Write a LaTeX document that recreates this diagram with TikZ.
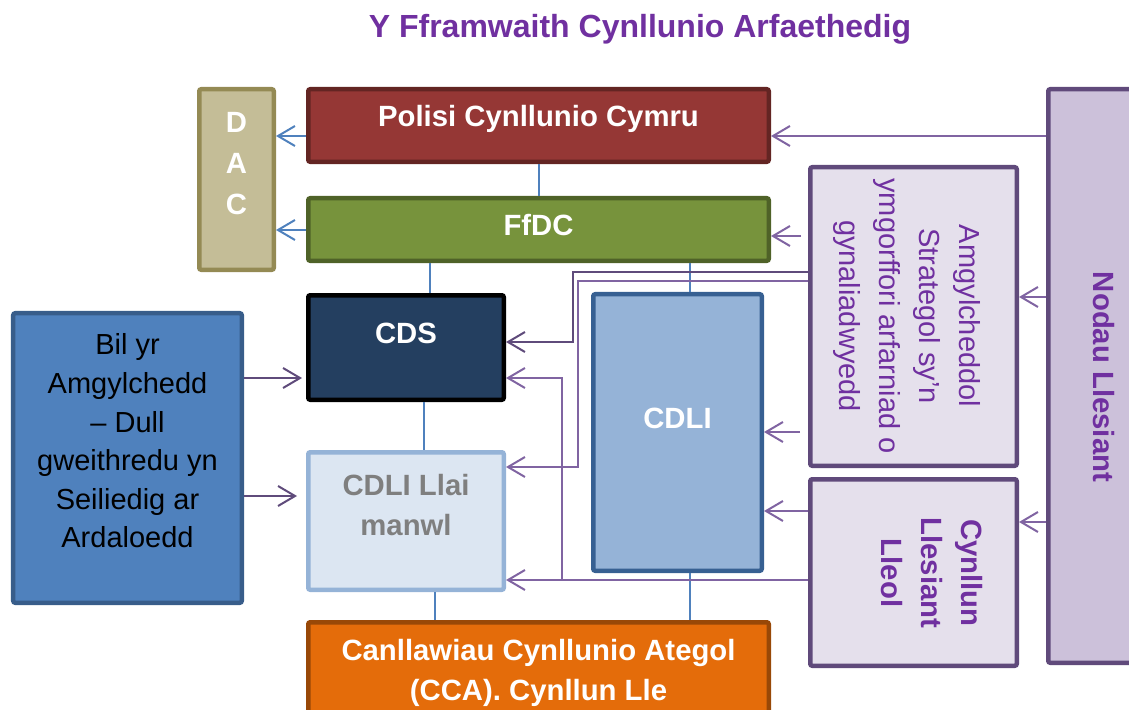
\documentclass[tikz,border=0pt]{standalone}
\usepackage{fontspec}
\setmainfont{Liberation Sans}
\usetikzlibrary{arrows.meta}
\definecolor{titlepurple}{HTML}{7030A0}
\definecolor{dacfill}{HTML}{C4BD97}
\definecolor{dacedge}{HTML}{948A54}
\definecolor{polfill}{HTML}{953735}
\definecolor{poledge}{HTML}{632523}
\definecolor{ffdcfill}{HTML}{77933C}
\definecolor{ffdcedge}{HTML}{4F6228}
\definecolor{cdsfill}{HTML}{243F60}
\definecolor{llaifill}{HTML}{DCE6F2}
\definecolor{llaiedge}{HTML}{95B3D7}
\definecolor{llaitext}{HTML}{7F7F7F}
\definecolor{cdlifill}{HTML}{95B3D7}
\definecolor{cdliedge}{HTML}{376092}
\definecolor{bilfill}{HTML}{4F81BD}
\definecolor{biledge}{HTML}{385D8A}
\definecolor{lilacfill}{HTML}{E5E0EC}
\definecolor{nodaufill}{HTML}{CCC1DA}
\definecolor{purpleedge}{HTML}{604A7B}
\definecolor{orfill}{HTML}{E46C0A}
\definecolor{oredge}{HTML}{984807}
\definecolor{lineblue}{HTML}{4F81BD}
\definecolor{arrpurple}{HTML}{8064A2}
\definecolor{arrdark}{HTML}{5F4B7B}
\newcommand\myfsbig{\fontsize{29.3bp}{40bp}\selectfont}
\newcommand\myfsreg{\fontsize{29bp}{40bp}\selectfont}
\newcommand\myfsbil{\fontsize{29bp}{38.6bp}\selectfont}
\newcommand\myfstitle{\fontsize{32bp}{38bp}\selectfont}
\tikzset{
  boxst/.style={draw, line width=4.5bp, rounded corners=2bp, inner sep=0pt},
  bline/.style={draw=lineblue, line width=2bp},
  barr/.style={bline, -{Straight Barb[length=17bp,width=20bp]}},
  parr/.style={draw=arrpurple, line width=2bp, -{Straight Barb[length=17bp,width=20bp]}},
  parrdark/.style={draw=arrdark, line width=2bp, -{Straight Barb[length=17bp,width=20bp]}},
  wtxt/.style={text=white, font=\myfsbig\bfseries, align=center, inner sep=0pt},
  ptxt/.style={text=titlepurple, align=center, inner sep=0pt, rotate=-90},
}
\begin{document}
\begin{tikzpicture}[x=1bp,y=-1bp]
\useasboundingbox (0,0) rectangle (1129,710);
\clip (0,0) rectangle (1129,710);

% title
\node[anchor=base, text=titlepurple, font=\myfstitle\bfseries, inner sep=0pt] (title) at (640,38) {Y Fframwaith Cynllunio Arfaethedig};

% boxes
\node[boxst, fill=dacfill, draw=dacedge, minimum width=74.5bp, minimum height=180.5bp] (dac) at (236.5,179.5) {};
\node[boxst, fill=polfill, draw=poledge, minimum width=460.5bp, minimum height=72.5bp] (polisi) at (538.5,125.5) {};
\node[boxst, fill=ffdcfill, draw=ffdcedge, minimum width=460.5bp, minimum height=62.5bp] (ffdc) at (538.5,229.5) {};
\node[boxst, fill=cdsfill, draw=black, minimum width=195.5bp, minimum height=104.5bp] (cds) at (406,347.5) {};
\node[boxst, fill=llaifill, draw=llaiedge, minimum width=195.5bp, minimum height=137.5bp] (llai) at (406,521) {};
\node[boxst, fill=cdlifill, draw=cdliedge, minimum width=168.5bp, minimum height=276.5bp] (cdli) at (677.5,432.5) {};
\node[boxst, fill=bilfill, draw=biledge, minimum width=228.5bp, minimum height=289.5bp] (bil) at (127.5,458) {};
\node[boxst, fill=lilacfill, draw=purpleedge, minimum width=206.5bp, minimum height=298.5bp] (amg) at (913.5,316.5) {};
\node[boxst, fill=lilacfill, draw=purpleedge, minimum width=206.5bp, minimum height=186.5bp] (cyn) at (913.5,572.5) {};
\node[boxst, fill=nodaufill, draw=purpleedge, minimum width=109.5bp, minimum height=573.5bp] (nodau) at (1103,376) {};
\node[boxst, fill=orfill, draw=oredge, minimum width=460.5bp, minimum height=155.5bp] (cca) at (538.5,700) {};

% texts
\node[wtxt, font=\fontsize{29.3bp}{41bp}\selectfont\bfseries] (dact) at (236.5,164) {D\\A\\C};
\node[wtxt, anchor=base] (polisit) at (538.5,127) {Polisi Cynllunio Cymru};
\node[wtxt, anchor=base] (ffdct) at (538.5,235) {FfDC};
\node[wtxt, anchor=base] (cdst) at (406,343) {CDS};
\node[wtxt, text=llaitext] (llait) at (406,505) {CDLI Llai\\manwl};
\node[wtxt, anchor=base] (cdlit) at (677.5,428) {CDLI};
\node[text=black, font=\myfsbil, align=center, inner sep=0pt] (bilt) at (127.5,441) {Bil yr\\Amgylchedd\\– Dull\\gweithredu yn\\Seiliedig ar\\Ardaloedd};
\node[wtxt] (ccat) at (538.5,673) {Canllawiau Cynllunio Ategol\\(CCA). Cynllun Lle};
\node[ptxt, font=\myfsreg] (amgt) at (907,316) {Amgylcheddol\\Strategol sy’n\\ymgorffori arfarniad o\\gynaliadwyedd};
\node[ptxt, font=\myfsbig\bfseries] (cynt) at (932,573) {Cynllun\\Llesiant\\Lleol};
\node[ptxt, font=\myfsbig\bfseries] (nodaut) at (1104,377) {Nodau Llesiant};

% level coordinates
\coordinate (y136) at (0,136);
\coordinate (y230) at (0,230);
\coordinate (y236) at (0,236);
\coordinate (y272) at (0,272);
\coordinate (y281) at (0,281);
\coordinate (y297) at (0,297);
\coordinate (y342) at (0,342);
\coordinate (y378) at (0,378);
\coordinate (y432) at (0,432);
\coordinate (y467) at (0,467);
\coordinate (y496) at (0,496);
\coordinate (y511) at (0,511);
\coordinate (y522) at (0,522);
\coordinate (y580) at (0,580);
\coordinate (x424) at (424,0);
\coordinate (x430) at (430,0);
\coordinate (x435) at (435,0);
\coordinate (x573) at (573,0);
\coordinate (x578) at (578,0);
\coordinate (x690) at (690,0);
\coordinate (jn) at (562,580);

% blue connectors
\draw[bline] (polisi.south) -- (ffdc.north);
\draw[bline] (ffdc.south -| x430) -- (cds.north -| x430);
\draw[bline] (cds.south -| x424) -- (llai.north -| x424);
\draw[bline] (llai.south -| x435) -- (cca.north -| x435);
\draw[bline] (ffdc.south -| x690) -- (cdli.north -| x690);
\draw[bline] (cdli.south -| x690) -- (cca.north -| x690);
\draw[barr] (polisi.west |- y136) -- (dac.east |- y136);
\draw[barr] (ffdc.west |- y230) -- (dac.east |- y230);

% purple connectors
\draw[parr] (nodau.west |- y136) -- (polisi.east |- y136);
\draw[parr, shorten <=7bp] (amg.west |- y236) -- (ffdc.east |- y236);
\draw[parr] (nodau.west |- y297) -- (amg.east |- y297);
\draw[parr] (nodau.west |- y522) -- (cyn.east |- y522);
\draw[parr, shorten <=8bp] (amg.west |- y432) -- (cdli.east |- y432);
\draw[parr] (cyn.west |- y511) -- (cdli.east |- y511);
\draw[parrdark] (amg.west |- y272) -| (x573 |- y342) -- (cds.east |- y342);
\draw[parr] (amg.west |- y281) -| (x578 |- y467) -- (llai.east |- y467);
\draw[parr] (cyn.west |- y580) -- (llai.east |- y580);
\draw[parr] (jn) |- (cds.east |- y378);
\draw[parrdark, shorten >=4bp] (bil.east |- y378) -- (cds.west |- y378);
\draw[parrdark, shorten >=9bp] (bil.east |- y496) -- (llai.west |- y496);
\end{tikzpicture}
\end{document}
